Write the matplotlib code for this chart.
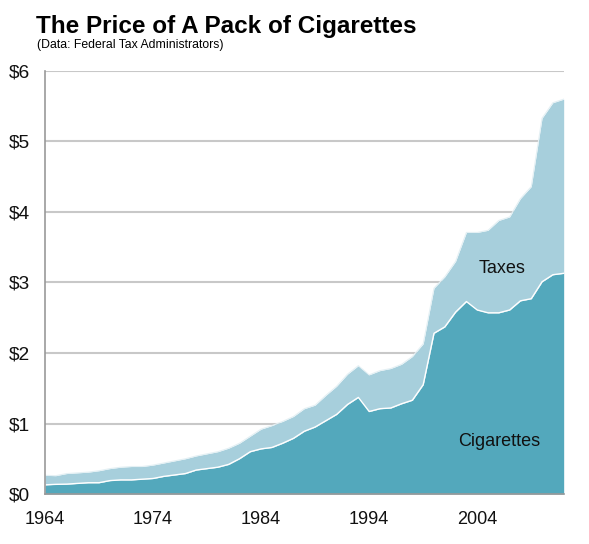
import matplotlib
matplotlib.use("Agg")
import matplotlib.pyplot as plt
import numpy as np

plt.rcParams['font.family'] = ['Liberation Sans', 'DejaVu Sans']

# Data (dollars per pack)
years = list(range(1964, 2013))
total_price = [0.265, 0.26, 0.29, 0.30, 0.31, 0.33, 0.36, 0.38, 0.39, 0.39,
               0.41, 0.44, 0.47, 0.50, 0.54, 0.57, 0.60, 0.65, 0.72, 0.82,
               0.92, 0.97, 1.03, 1.10, 1.21, 1.26, 1.40, 1.53, 1.70, 1.82,
               1.69, 1.75, 1.78, 1.84, 1.95, 2.13, 2.92, 3.08, 3.30, 3.71,
               3.71, 3.74, 3.88, 3.93, 4.19, 4.36, 5.33, 5.55, 5.60]
cigarettes = [0.13, 0.137, 0.14, 0.15, 0.16, 0.16, 0.19, 0.20, 0.20, 0.21,
              0.22, 0.25, 0.27, 0.29, 0.34, 0.36, 0.38, 0.42, 0.50, 0.60,
              0.64, 0.66, 0.72, 0.79, 0.89, 0.95, 1.04, 1.13, 1.27, 1.37,
              1.17, 1.21, 1.22, 1.28, 1.33, 1.55, 2.28, 2.37, 2.58, 2.73,
              2.61, 2.57, 2.57, 2.61, 2.74, 2.77, 3.01, 3.11, 3.13]
xtick_years = [1964, 1974, 1984, 1994, 2004]
ytick_vals = [0, 1, 2, 3, 4, 5, 6]

dark = '#53a8bc'
light = '#a7cfdc'
grid_col = '#c8c8c8'

fig = plt.figure(figsize=(5.89, 5.44), dpi=100)
ax = fig.add_axes([0.0764, 0.0919, 0.8806, 0.7776])

x = np.array(years)
cig = np.array(cigarettes)
tot = np.array(total_price)

ax.fill_between(x, 0, cig, color=dark, lw=0, zorder=3)
ax.fill_between(x, cig, tot, color=light, lw=0, zorder=3)
ax.plot(x, cig, color='white', lw=1.0, zorder=4)
ax.plot(x, tot, color='#e4f0f4', lw=0.8, zorder=4)

ax.set_xlim(1964, 2012)
ax.set_ylim(0, 6)

for v in ytick_vals[1:]:
    ax.axhline(v, color=grid_col, lw=1.5, zorder=1)

ax.set_yticks(ytick_vals)
ax.set_yticklabels([f'${v}' for v in ytick_vals], fontsize=13.8)
ax.set_xticks(xtick_years)
ax.set_xticklabels([str(y) for y in xtick_years], fontsize=13)
ax.tick_params(axis='both', length=0, colors='#111111')
ax.tick_params(axis='y', pad=10.5)
ax.tick_params(axis='x', pad=12)

for side in ['top', 'right']:
    ax.spines[side].set_visible(False)
for side in ['left', 'bottom']:
    ax.spines[side].set_color('#999999')
    ax.spines[side].set_linewidth(1.2)
    ax.spines[side].set_zorder(5)

ax.text(2006.3, 3.2, 'Taxes', fontsize=13, ha='center', va='center', color='#111111', zorder=6)
ax.text(2006.0, 0.75, 'Cigarettes', fontsize=13, ha='center', va='center', color='#111111', zorder=6)

fig.text(36 / 589, 1 - 33 / 544, 'The Price of A Pack of Cigarettes',
         fontsize=17.5, fontweight='bold', ha='left', va='baseline')
fig.text(37 / 589, 1 - 48 / 544, '(Data: Federal Tax Administrators)',
         fontsize=8.8, ha='left', va='baseline')

fig.savefig('out.png', dpi=100)
